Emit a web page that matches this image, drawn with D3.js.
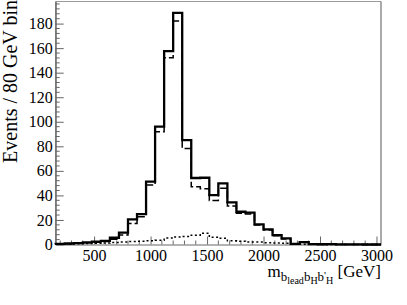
<!DOCTYPE html>
<html lang="en">
<head>
    <script src="https://d3js.org/d3.v7.min.js"></script>
    <style>
        body { margin: 0; background: #fff; }
        text { font-family: "Liberation Serif", "DejaVu Serif", serif; }
    </style>
</head>
<body>
    <svg width="407" height="305"></svg>
    <script>
        // bin lower edges, 80 GeV bins from 160 to 3040
        const binLow = d3.range(36).map(i => 160 + 80 * i);
        const binWidth = 80;

        const solidVals = [0.5, 0.8, 1.2, 1.8, 2.3, 3.0, 5.5, 9.6, 20.5, 24.8,
            51.2, 96.0, 157.6, 188.8, 85.1, 54.2, 54.4, 40.3, 49.8, 34.4,
            26.7, 26.0, 16.4, 12.4, 7.7, 5.0, 0.5, 2.0, 0.3, 0.2,
            0.3, 0.1, 0.1, 0.1, 0.0, 0.0];
        const dashedVals = [0.4, 0.6, 1.0, 1.4, 1.8, 2.4, 4.2, 7.7, 17.2, 22.7,
            48.5, 91.8, 152.2, 182.2, 78.3, 47.0, 45.5, 35.8, 45.8, 31.3,
            25.4, 24.8, 15.9, 11.8, 7.2, 4.5, 0.4, 1.6, 0.2, 0.2,
            0.2, 0.1, 0.1, 0.0, 0.0, 0.0];
        const dottedVals = [0.3, 0.4, 0.6, 0.8, 1.0, 1.3, 1.6, 2.0, 2.4, 2.6,
            3.0, 3.5, 5.2, 6.2, 6.6, 7.6, 9.1, 5.9, 5.0, 3.0,
            2.7, 2.0, 2.0, 1.5, 1.2, 1.0, 0.3, 0.3, 0.2, 0.1,
            0.1, 0.1, 0.0, 0.0, 0.0, 0.0];

        const xMajor = [500, 1000, 1500, 2000, 2500, 3000];
        const yMajor = [0, 20, 40, 60, 80, 100, 120, 140, 160, 180];

        const svg = d3.select("svg");
        const padL = 55.7, padR = 381, padT = 1.5, padB = 244.5;

        const x = d3.scaleLinear().domain([160, 3040]).range([padL, padR]);
        const y = d3.scaleLinear().domain([0, 198]).range([padB, padT]);

        const axisColor = "#666";

        // minor ticks
        const xMinor = d3.range(200, 3040, 100).filter(v => v % 500 !== 0);
        const yMinor = d3.range(0, 198, 4).filter(v => v % 20 !== 0);

        svg.append("g").selectAll("line")
            .data(xMinor)
            .join("line")
            .attr("x1", d => x(d)).attr("x2", d => x(d))
            .attr("y1", padB).attr("y2", padB - 4)
            .attr("stroke", axisColor);

        svg.append("g").selectAll("line")
            .data(yMinor)
            .join("line")
            .attr("x1", padL).attr("x2", padL + 4)
            .attr("y1", d => y(d)).attr("y2", d => y(d))
            .attr("stroke", axisColor);

        const xAxis = svg.append("g")
            .attr("transform", `translate(0,${padB})`)
            .call(d3.axisBottom(x).tickValues(xMajor).tickFormat(d3.format("d"))
                .tickSizeInner(-8).tickSizeOuter(0).tickPadding(4));
        xAxis.select(".domain").attr("stroke", axisColor);
        xAxis.selectAll(".tick line").attr("stroke", axisColor);
        xAxis.selectAll(".tick text")
            .attr("fill", "#000")
            .style("font-size", "16px")
            .attr("dy", "0.75em");

        const yAxis = svg.append("g")
            .attr("transform", `translate(${padL},0)`)
            .call(d3.axisLeft(y).tickValues(yMajor).tickFormat(d3.format("d"))
                .tickSizeInner(-8).tickSizeOuter(0).tickPadding(3));
        yAxis.select(".domain").attr("stroke", axisColor);
        yAxis.selectAll(".tick line").attr("stroke", axisColor);
        yAxis.selectAll(".tick text")
            .attr("fill", "#000")
            .style("font-size", "16px");

        // frame
        svg.append("line")
            .attr("x1", padL).attr("x2", padR).attr("y1", padT).attr("y2", padT)
            .attr("stroke", "#999");
        svg.append("line")
            .attr("x1", padR).attr("x2", padR).attr("y1", padT).attr("y2", padB)
            .attr("stroke", "#555");
        svg.append("line")
            .attr("x1", padL).attr("x2", padL).attr("y1", padT).attr("y2", padB)
            .attr("stroke", axisColor);

        // histograms
        const stepLine = d3.line()
            .x(d => x(d[0]))
            .y(d => y(d[1]))
            .curve(d3.curveStepAfter);

        function histPoints(vals) {
            const pts = [[binLow[0], 0]];
            vals.forEach((v, i) => pts.push([binLow[i], v]));
            pts.push([binLow[vals.length - 1] + binWidth, vals[vals.length - 1]]);
            return pts;
        }

        svg.append("path")
            .attr("d", stepLine(histPoints(dottedVals)))
            .attr("fill", "none")
            .attr("stroke", "#000")
            .attr("stroke-width", 1.5)
            .attr("stroke-dasharray", "2,2.5");

        svg.append("path")
            .attr("d", stepLine(histPoints(dashedVals)))
            .attr("fill", "none")
            .attr("stroke", "#000")
            .attr("stroke-width", 1.5)
            .attr("stroke-dasharray", "7,3");

        svg.append("path")
            .attr("d", stepLine(histPoints(solidVals)))
            .attr("fill", "none")
            .attr("stroke", "#000")
            .attr("stroke-width", 2.3);

        // axis titles
        svg.append("text")
            .attr("transform", "translate(17,0) rotate(-90)")
            .attr("text-anchor", "end")
            .style("font-size", "20px")
            .text("Events / 80 GeV bin");

        const xt = svg.append("text")
            .attr("x", 381)
            .attr("y", 277)
            .attr("text-anchor", "end")
            .style("font-size", "17px");
        xt.append("tspan").text("m");
        xt.append("tspan").attr("dy", 4).style("font-size", "13px").text("b");
        xt.append("tspan").attr("dy", 3).style("font-size", "10px").text("lead");
        xt.append("tspan").attr("dy", -3).style("font-size", "13px").text("b");
        xt.append("tspan").attr("dy", 3).style("font-size", "10px").text("H");
        xt.append("tspan").attr("dy", -3).style("font-size", "13px").text("b");
        xt.append("tspan").attr("dy", -2).style("font-size", "11px").text("'");
        xt.append("tspan").attr("dy", 5).style("font-size", "10px").text("H");
        xt.append("tspan").attr("dy", -7).style("font-size", "17px").text(" [GeV]");
    </script>
</body>
</html>
